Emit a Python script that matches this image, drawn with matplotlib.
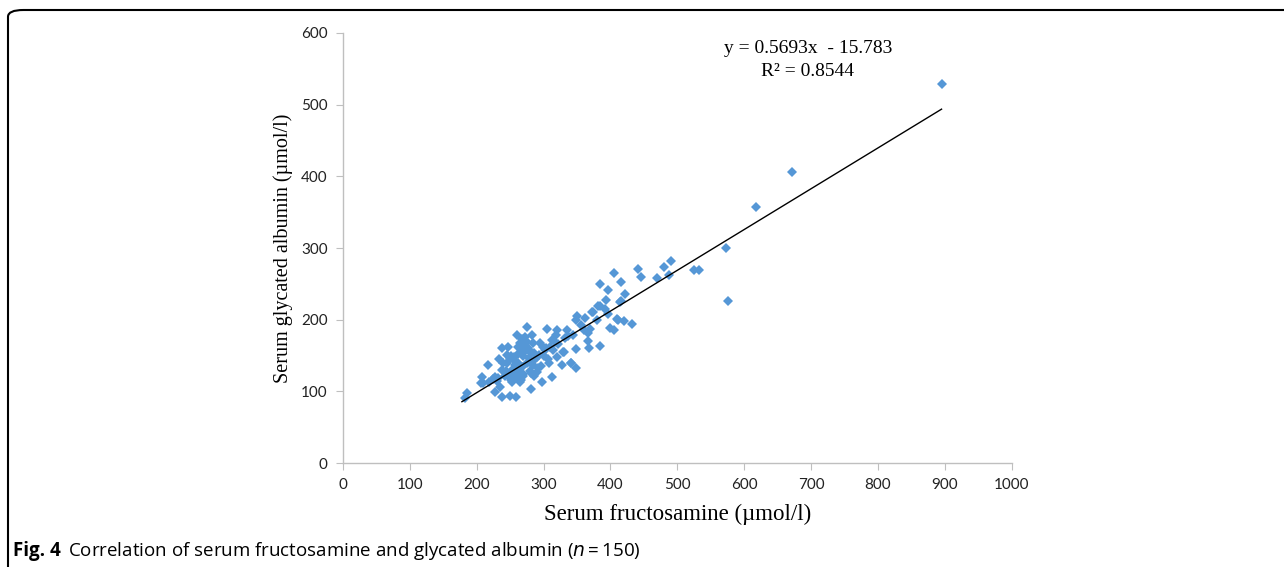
import matplotlib.pyplot as plt
import matplotlib.ticker as tic
from matplotlib.patches import FancyBboxPatch
import numpy as np

# --- данные --- #
fructosamine = [
    895, 672, 618, 573, 576, 533, 525, 490, 480, 487, 469, 441, 445, 405, 416,
    384, 396, 422, 393, 416, 381, 372, 392, 396, 362, 350, 348, 410, 420, 432,
    400, 405, 369, 360, 335, 336, 332, 320, 305, 275, 366, 368, 384, 349, 331,
    341, 348, 328, 313, 307, 320, 314, 317, 312, 294, 299, 304, 293, 284, 283,
    272, 268, 265, 262, 273, 275, 282, 290, 278, 269, 266, 256, 247, 238, 233,
    245, 250, 260, 257, 268, 276, 284, 290, 281, 269, 263, 254, 248, 259, 265,
    253, 242, 238, 227, 217, 208, 210, 219, 230, 235, 227, 238, 250, 259, 282,
    298, 185, 182, 207, 374, 384, 414, 411, 367, 329, 341, 262, 270, 278, 286,
    300, 310, 255, 244, 270, 288, 296, 274, 262, 252, 302, 322, 344, 356, 380,
    277, 263, 251, 240, 292, 318, 308, 266, 258, 280, 246, 271, 286, 232, 224,
]
albumin = [
    529, 406, 357, 300, 226, 270, 269, 282, 274, 262, 258, 271, 260, 265, 253,
    250, 242, 236, 228, 226, 219, 211, 215, 208, 203, 205, 200, 201, 198, 194,
    188, 185, 187, 186, 186, 177, 174, 186, 187, 190, 170, 160, 163, 159, 155,
    139, 132, 137, 120, 145, 148, 158, 169, 172, 168, 162, 160, 151, 167, 179,
    176, 173, 168, 162, 166, 158, 155, 148, 146, 149, 155, 148, 162, 160, 145,
    139, 145, 179, 137, 134, 139, 137, 127, 126, 124, 130, 127, 121, 118, 113,
    113, 121, 130, 120, 137, 120, 111, 113, 114, 106, 99, 92, 93, 92, 103,
    113, 98, 91, 112, 211, 219, 225, 200, 181, 155, 139, 152, 160, 141, 153,
    150, 162, 131, 128, 121, 145, 135, 170, 140, 150, 157, 166, 179, 192, 200,
    160, 123, 116, 140, 132, 178, 140, 116, 142, 128, 151, 156, 122, 118, 117,
]
slope = 0.5693
intercept = -15.783
r2 = 0.8544
fit_x = [178, 895]

fig = plt.figure(figsize=(12.84, 5.67), dpi=100)
ax = fig.add_axes([0.267, 0.1834, 0.521, 0.7584])

ax.plot(fructosamine, albumin, linestyle='none', marker='D', markersize=5.2,
        color='#5597d6', markeredgewidth=0, zorder=3)
fx = np.array(fit_x, dtype=float)
ax.plot(fx, slope * fx + intercept, color='black', linewidth=1.0, zorder=4)

ax.set_xlim(0, 1000)
ax.set_ylim(0, 600)
ax.xaxis.set_major_locator(tic.MultipleLocator(100))
ax.yaxis.set_major_locator(tic.MultipleLocator(100))
for s in ['top', 'right']:
    ax.spines[s].set_visible(False)
for s in ['left', 'bottom']:
    ax.spines[s].set_color('#bfbfbf')
    ax.spines[s].set_linewidth(1.0)
ax.tick_params(axis='both', direction='out', length=5, color='#bfbfbf',
               labelsize=11, pad=6)
for lab in ax.get_xticklabels() + ax.get_yticklabels():
    lab.set_family('Lato')
    lab.set_color('#222222')

ax.set_xlabel('Serum fructosamine (µmol/l)', family='Liberation Serif',
              fontsize=16.5, labelpad=8)
ax.set_ylabel('Serum glycated albumin (µmol/l)', family='Liberation Serif',
              fontsize=14.5, labelpad=6)

ax.text(695, 590, 'y = 0.5693x  - 15.783\nR² = %.4f' % r2, ha='center', va='top',
        family='Liberation Serif', fontsize=14, linespacing=1.45)

# рамка с закруглённым углом
frame = FancyBboxPatch((8 / 1284, -20 / 567), 1.2, (557 + 20) / 567,
                       boxstyle='round,pad=0,rounding_size=0.012',
                       transform=fig.transFigure, fill=False,
                       edgecolor='black', linewidth=1.5, clip_on=False)
fig.patches.append(frame)

fig.text(13 / 1284, 1 - 551 / 567, 'Fig. 4', family='Open Sans',
         fontweight='bold', fontsize=13.5, va='center', ha='left')
fig.text(68 / 1284, 1 - 551 / 567,
         'Correlation of serum fructosamine and glycated albumin ($\\it{n}$\u2009=\u2009150)',
         family='Open Sans', fontsize=13.5, va='center', ha='left')

fig.savefig('out.png', dpi=100)
